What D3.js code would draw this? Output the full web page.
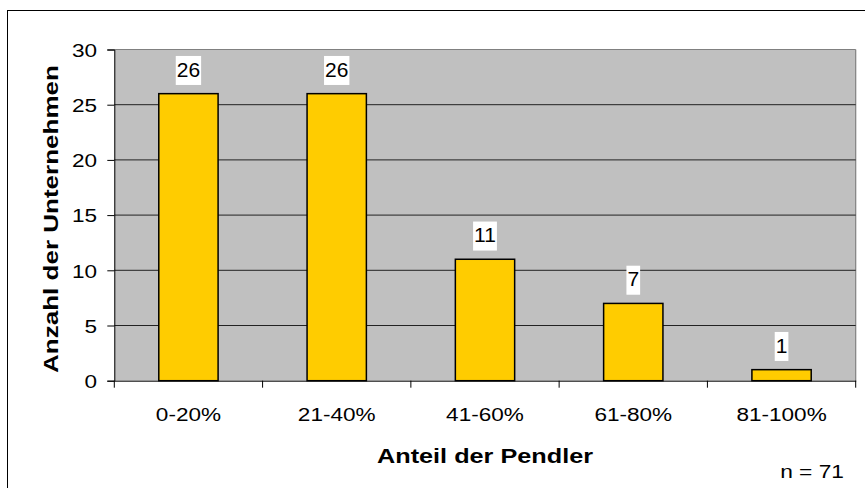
<!DOCTYPE html>
<html><head><meta charset="utf-8">
<script src="https://cdn.jsdelivr.net/npm/d3@7"></script>
<style>body{margin:0;background:#fff}svg{display:block}text{font-family:"Liberation Sans",Arial,sans-serif;fill:#000}</style>
</head><body><svg id="c" width="865" height="488"></svg>
<script>
const categories = ["0-20%","21-40%","41-60%","61-80%","81-100%"];
const values = [26,26,11,7,1];
const yTicks = [0,5,10,15,20,25,30];
const xTitle = "Anteil der Pendler";
const yTitle = "Anzahl der Unternehmen";
const note = "n = 71";

const svg = d3.select("#c");
const L = 114.3, R = 855.7, T = 49.5, B = 380.7;
const x = d3.scaleBand().domain(categories).range([L,R]).paddingInner(0.6).paddingOuter(0.3);
const y = d3.scaleLinear().domain([0,30]).range([B,T]);

// outer frame
svg.append("rect").attr("x",7.5).attr("y",10.5).attr("width",900).attr("height",500)
  .attr("fill","#fff").attr("stroke","#000").attr("stroke-width",1);

// plot area
svg.append("rect").attr("x",L).attr("y",T).attr("width",R-L).attr("height",B-T).attr("fill","#C0C0C0");
svg.append("line").attr("x1",L).attr("x2",R).attr("y1",T).attr("y2",T).attr("stroke","#808080").attr("stroke-width",1.2);
svg.append("line").attr("x1",R).attr("x2",R).attr("y1",T).attr("y2",B).attr("stroke","#808080").attr("stroke-width",1.2);

// gridlines
svg.append("g").selectAll("line").data(yTicks.filter(d=>d>0 && d<30)).join("line")
  .attr("x1",L).attr("x2",R).attr("y1",d=>y(d)).attr("y2",d=>y(d)).attr("stroke","#222").attr("stroke-width",1);

// y axis
const ya = svg.append("g").attr("transform",`translate(${L},0)`)
  .call(d3.axisLeft(y).tickValues(yTicks).tickSize(7).tickFormat(""));
ya.select(".domain").attr("stroke","#000");
ya.selectAll(".tick line").attr("stroke","#000");
svg.append("g").selectAll("text").data(yTicks).join("text")
  .attr("transform",d=>`translate(97,${y(d)+7.2}) scale(1.22,1)`)
  .attr("text-anchor","end").attr("font-size",18.5).text(d=>d);

// x axis
const xa = svg.append("g").attr("transform",`translate(0,${B})`)
  .call(d3.axisBottom(x).tickSize(0).tickFormat(""));
xa.select(".domain").attr("stroke","#000");
const step = x.step();
const bounds = d3.range(categories.length+1).map(i=>L+i*step);
svg.append("g").selectAll("line").data(bounds).join("line")
  .attr("x1",d=>d).attr("x2",d=>d).attr("y1",B).attr("y2",B+7).attr("stroke","#000");
svg.append("g").selectAll("text").data(categories).join("text")
  .attr("transform",d=>`translate(${x(d)+x.bandwidth()/2},421) scale(1.22,1)`)
  .attr("text-anchor","middle").attr("font-size",18.5).text(d=>d);

// bars
svg.append("g").selectAll("rect").data(values).join("rect")
  .attr("x",(d,i)=>x(categories[i])).attr("width",x.bandwidth())
  .attr("y",d=>y(d)).attr("height",d=>B-y(d))
  .attr("fill","#FFCC00").attr("stroke","#000").attr("stroke-width",1.5);

// value labels
const lg = svg.append("g");
values.forEach((v,i)=>{
  const cx = x(categories[i])+x.bandwidth()/2;
  const bottom = y(v)-8.7;
  const t = lg.append("text").attr("x",cx).attr("y",bottom-8.3).attr("text-anchor","middle")
    .attr("font-size",21).text(v);
  const w = t.node().getComputedTextLength()+2;
  lg.insert("rect","text").attr("x",cx-w/2).attr("y",bottom-29).attr("width",w).attr("height",29).attr("fill","#fff");
});

// titles
svg.append("text").attr("x",485).attr("y",463.3).attr("text-anchor","middle")
  .attr("font-size",19.5).attr("font-weight","bold")
  .attr("textLength",216).attr("lengthAdjust","spacingAndGlyphs").text(xTitle);
svg.append("text").attr("transform","translate(58,219) rotate(-90)").attr("text-anchor","middle")
  .attr("font-size",20).attr("font-weight","bold")
  .attr("textLength",308).attr("lengthAdjust","spacingAndGlyphs").text(yTitle);
svg.append("text").attr("transform","translate(844,477.5) scale(1.23,1)").attr("text-anchor","end")
  .attr("font-size",18.5).text(note);
</script></body></html>
